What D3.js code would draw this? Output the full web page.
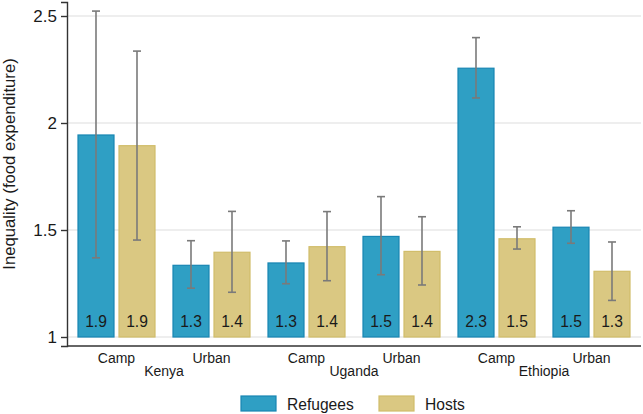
<!DOCTYPE html>
<html>
<head>
<meta charset="utf-8">
<script src="https://cdn.jsdelivr.net/npm/d3@7"></script>
<style>
  body { margin: 0; background: #fff; }
  svg text { font-family: "Liberation Sans", Arial, Helvetica, sans-serif; fill: #1a1a1a; }
</style>
</head>
<body>
<div id="chart"></div>
<script>
// groups along x (site within country)
var sites = ["Camp", "Urban", "Camp", "Urban", "Camp", "Urban"];
var countries = ["Kenya", "Uganda", "Ethiopia"];
var series = ["Refugees", "Hosts"];

// bar heights
var refugees = [1.944, 1.335, 1.346, 1.470, 2.256, 1.513];
var hosts    = [1.894, 1.396, 1.422, 1.400, 1.459, 1.307];

// confidence intervals (low, high)
var refLo  = [1.370, 1.228, 1.249, 1.291, 2.117, 1.438];
var refHi  = [2.523, 1.450, 1.449, 1.656, 2.399, 1.590];
var hostLo = [1.453, 1.209, 1.263, 1.243, 1.411, 1.171];
var hostHi = [2.336, 1.587, 1.586, 1.562, 1.515, 1.444];

var yTicks = [1, 1.5, 2, 2.5];

function draw() {
  var W = 643, H = 414;
  var pLeft = 67, pRight = 641, pTop = 2, pBottom = 346;

  var svg = d3.select("#chart").append("svg")
    .attr("width", W).attr("height", H);

  var y = d3.scaleLinear()
    .domain([1 - 9/214, 2.5 + 14/214])
    .range([pBottom, pTop]);

  var groupIdx = d3.range(sites.length);
  var x0 = d3.scaleBand().domain(groupIdx).range([69, 639]);
  var x1 = d3.scaleBand().domain(series).range([8.5, 86.5]).paddingInner(0.0976);

  var colors = { Refugees: "#2f9fc4", Hosts: "#dac882" };
  var strokes = { Refugees: "#1886b3", Hosts: "#d1bd6a" };

  // gridlines
  svg.append("g").selectAll("line")
    .data(yTicks).enter().append("line")
    .attr("x1", pLeft + 1).attr("x2", pRight)
    .attr("y1", function(d){ return y(d); })
    .attr("y2", function(d){ return y(d); })
    .attr("stroke", "#e8e8e8").attr("stroke-width", 1.5);

  // bars
  var rows = [];
  groupIdx.forEach(function(i){
    rows.push({ g: i, s: "Refugees", v: refugees[i], lo: refLo[i], hi: refHi[i] });
    rows.push({ g: i, s: "Hosts", v: hosts[i], lo: hostLo[i], hi: hostHi[i] });
  });

  var bars = svg.append("g").selectAll("g")
    .data(rows).enter().append("g")
    .attr("transform", function(d){ return "translate(" + (x0(d.g) + x1(d.s)) + ",0)"; });

  bars.append("rect")
    .attr("x", 0.5)
    .attr("width", x1.bandwidth() - 1)
    .attr("y", function(d){ return y(d.v); })
    .attr("height", function(d){ return y(1) - y(d.v); })
    .attr("fill", function(d){ return colors[d.s]; })
    .attr("stroke", function(d){ return strokes[d.s]; })
    .attr("stroke-width", 1.2);

  // value labels
  bars.append("text")
    .attr("x", x1.bandwidth() / 2)
    .attr("y", y(1) - 10)
    .attr("text-anchor", "middle")
    .style("font-size", "15.6px")
    .text(function(d){ return d3.format(".1f")(d.v); });

  // error bars
  var cx = x1.bandwidth() / 2;
  var ebar = bars.append("g").attr("stroke", "#7a7a7a").attr("stroke-width", 1.6);
  ebar.append("line")
    .attr("x1", cx).attr("x2", cx)
    .attr("y1", function(d){ return y(d.lo); })
    .attr("y2", function(d){ return y(d.hi); });
  ebar.append("line")
    .attr("x1", cx - 4).attr("x2", cx + 4)
    .attr("y1", function(d){ return y(d.hi); })
    .attr("y2", function(d){ return y(d.hi); });
  ebar.append("line")
    .attr("x1", cx - 4).attr("x2", cx + 4)
    .attr("y1", function(d){ return y(d.lo); })
    .attr("y2", function(d){ return y(d.lo); });

  // y axis
  var yAxis = svg.append("g")
    .attr("transform", "translate(" + pLeft + ",0)")
    .call(d3.axisLeft(y).tickValues(yTicks).tickSize(6).tickPadding(4)
      .tickFormat(function(d){ return d3.format("")(d); }));
  yAxis.select(".domain").attr("stroke", "#333").attr("stroke-width", 1.4);
  yAxis.selectAll(".tick line").attr("stroke", "#333").attr("stroke-width", 1.4);
  yAxis.selectAll(".tick text").style("font-size", "17px").attr("fill", "#1a1a1a");

  // x axis line
  svg.append("line")
    .attr("x1", pLeft).attr("x2", pRight)
    .attr("y1", pBottom).attr("y2", pBottom)
    .attr("stroke", "#333").attr("stroke-width", 1.4);

  // site labels
  svg.append("g").selectAll("text")
    .data(groupIdx).enter().append("text")
    .attr("x", function(i){ return x0(i) + x0.bandwidth() / 2; })
    .attr("y", 363)
    .attr("text-anchor", "middle")
    .style("font-size", "14px")
    .text(function(i){ return sites[i]; });

  // country labels
  svg.append("g").selectAll("text")
    .data(countries).enter().append("text")
    .attr("x", function(c, k){ return x0(2 * k) + x0.bandwidth(); })
    .attr("y", 376)
    .attr("text-anchor", "middle")
    .style("font-size", "14px")
    .text(function(c){ return c; });

  // y title
  svg.append("text")
    .attr("transform", "translate(15,164) rotate(-90)")
    .attr("text-anchor", "middle")
    .style("font-size", "16.7px")
    .text("Inequality (food expenditure)");

  // legend
  var legX = [241, 379];
  var leg = svg.append("g").selectAll("g")
    .data(series).enter().append("g")
    .attr("transform", function(d, i){ return "translate(" + legX[i] + ",396)"; });
  leg.append("rect")
    .attr("width", 35).attr("height", 15)
    .attr("fill", function(d){ return colors[d]; })
    .attr("stroke", function(d){ return strokes[d]; })
    .attr("stroke-width", 1.2);
  leg.append("text")
    .attr("x", 46).attr("y", 13.5)
    .style("font-size", "15.6px")
    .text(function(d){ return d; });
}

draw();
</script>
</body>
</html>
